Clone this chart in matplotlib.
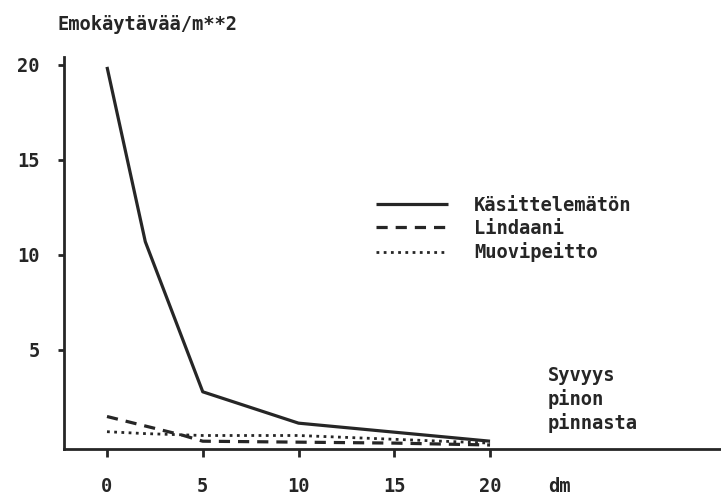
import matplotlib
matplotlib.use("Agg")
import matplotlib.pyplot as plt

# syvyys (dm) ja emokäytävää / m**2
syvyys_kas = [0, 2, 5, 10, 20]
kasittelematon = [19.9, 10.7, 2.8, 1.15, 0.2]

syvyys_lin = [0, 2, 4, 5, 10, 15, 20]
lindaani = [1.5, 1.0, 0.5, 0.2, 0.15, 0.1, 0.0]

syvyys_muo = [0, 2, 5, 10, 15, 20]
muovipeitto = [0.7, 0.6, 0.5, 0.5, 0.3, 0.1]

x_ticks = [0, 5, 10, 15, 20]
y_ticks = [5, 10, 15, 20]

ink = "#262626"
fs = 13.5
font = dict(family="DejaVu Sans Mono", weight="bold", color=ink)

W, H = 721, 496
fig = plt.figure(figsize=(W / 100, H / 100), dpi=100)
ax = fig.add_axes([0, 0, 1, 1])
ax.set_xlim(-5.587, 32.06)
ax.set_ylim(-2.684, 23.42)

ax.plot(syvyys_kas, kasittelematon, color=ink, lw=2.3, solid_capstyle="butt",
        label="Käsittelemätön")
ax.plot(syvyys_lin, lindaani, color=ink, lw=2.3, dashes=(3.5, 2.5),
        label="Lindaani")
ax.plot(syvyys_muo, muovipeitto, color=ink, lw=2.0, dashes=(1, 1.6),
        label="Muovipeitto")

# akselit
for s in ["top", "right"]:
    ax.spines[s].set_visible(False)
ax.spines["left"].set_position(("data", -2.245))
ax.spines["left"].set_bounds(-0.21, 20.4)
ax.spines["bottom"].set_position(("data", -0.21))
ax.spines["bottom"].set_bounds(-2.245, 32.1)
for s in ["left", "bottom"]:
    ax.spines[s].set_linewidth(2.0)
    ax.spines[s].set_color(ink)

ax.set_xticks(x_ticks)
ax.set_yticks(y_ticks)
ax.set_xticklabels([str(v) for v in x_ticks], **font)
ax.set_yticklabels([str(v) for v in y_ticks], **font)
ax.tick_params(axis="both", direction="out", width=2.0, color=ink, labelsize=fs)
ax.tick_params(axis="y", length=4.5, pad=13)
ax.tick_params(axis="x", length=5.5, pad=15)

fig.text(57 / W, 1 - 25 / H, "Emokäytävää/m**2", va="center", ha="left",
         fontsize=fs, **font)
fig.text(548 / W, 1 - 366 / H, "Syvyys\npinon\npinnasta", va="top", ha="left",
         fontsize=fs, linespacing=1.25, **font)
fig.text(548 / W, 1 - 487 / H, "dm", va="center", ha="left", fontsize=fs, **font)

leg = ax.legend(loc="upper left", bbox_to_anchor=(359 / W, 1 - 179 / H),
                frameon=False, handlelength=3.84, handletextpad=1.39,
                labelspacing=0.22, prop=dict(family="DejaVu Sans Mono",
                                             weight="bold", size=fs))
for t in leg.get_texts():
    t.set_color(ink)

fig.savefig("out.png", dpi=100)
